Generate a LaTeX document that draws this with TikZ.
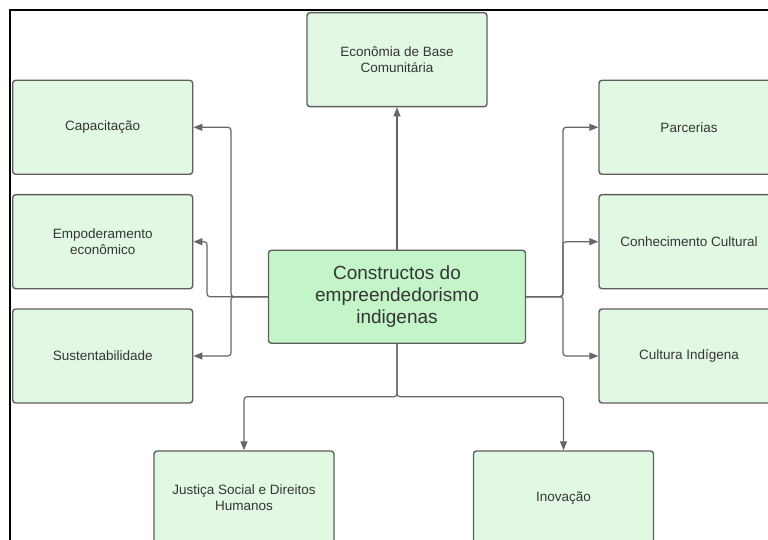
\documentclass[tikz,border=0pt]{standalone}
\usepackage{fontspec}
\setmainfont{Liberation Sans}
\usetikzlibrary{arrows.meta}
\definecolor{boxfill}{HTML}{E1F8E2}
\definecolor{mainfill}{HTML}{C3F5C8}
\definecolor{boxdraw}{HTML}{5E5E5E}
\definecolor{linecol}{HTML}{666666}
\definecolor{txtcol}{HTML}{353535}
\begin{document}
\begin{tikzpicture}[x=1pt,y=-1pt,
  box/.style={draw=boxdraw, fill=boxfill, line width=1.4pt, rounded corners=3pt,
    minimum width=180pt, minimum height=94pt, inner sep=0pt, align=center,
    text=txtcol, font=\fontsize{13.5pt}{16pt}\selectfont},
  mainbox/.style={box, fill=mainfill, minimum width=257pt, minimum height=93pt,
    font=\fontsize{19pt}{22pt}\selectfont},
  conn/.style={draw=linecol, line width=1.2pt, rounded corners=3pt,
    -{Triangle[length=9pt,width=7pt]}}]
\useasboundingbox (0,0) rectangle (768,540);
\clip (0,0) rectangle (768,540);
\draw[black, line width=2pt] (10,550) -- (10,10) -- (780,10);
\node[box] (econ) at (397,59.7) {Econômia de Base\\Comunitária};
\node[box] (cap) at (102.7,127.3) {Capacitação};
\node[box] (emp) at (102.7,241.7) {Empoderamento\\econômico};
\node[box] (sus) at (102.7,356) {Sustentabilidade};
\node[box] (par) at (689,127.3) {Parcerias};
\node[box] (con) at (689,241.7) {Conhecimento Cultural};
\node[box] (cul) at (689,356) {Cultura Indígena};
\node[mainbox] (main) at (397,296.7) {Constructos do\\empreendedorismo\\indigenas};
\node[box] (jus) at (244,498) {Justiça Social e Direitos\\Humanos};
\node[box] (ino) at (563.5,498) {Inovação};
\coordinate (jl) at (231,296.7);
\coordinate (je) at (207,296.7);
\coordinate (jr) at (563,296.7);
\coordinate (jb) at (397,396.7);
\draw[conn] (main.west) -- (jl) |- (cap.east);
\draw[conn] (main.west) -- (jl) |- (sus.east);
\draw[conn] (main.west) -- (je) |- (emp.east);
\draw[conn] (main.east) -- (jr) |- (par.west);
\draw[conn] (main.east) -- (jr) |- (con.west);
\draw[conn] (main.east) -- (jr) |- (cul.west);
\draw[conn] (main.north) -- (econ.south);
\draw[conn] (main.south) -- (jb) -| (jus.north);
\draw[conn] (main.south) -- (jb) -| (ino.north);
\end{tikzpicture}
\end{document}
